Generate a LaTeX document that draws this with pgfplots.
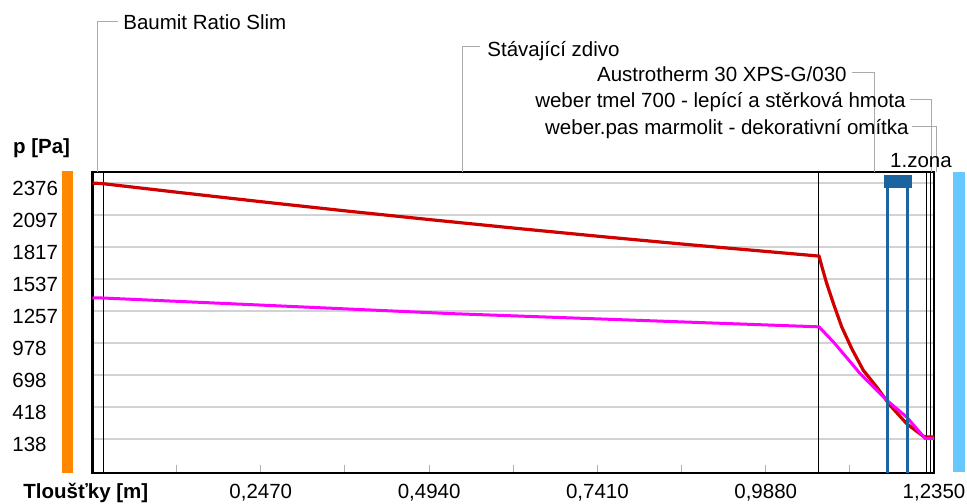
\documentclass[border=0pt]{standalone}
\usepackage{pgfplots}
\pgfplotsset{compat=1.18}
\usepackage{fontspec}
\setmainfont{Liberation Sans}
\definecolor{pred}{RGB}{208,0,0}
\definecolor{pmag}{RGB}{255,0,255}
\definecolor{zoneblue}{RGB}{28,100,160}
\definecolor{barorange}{RGB}{255,136,0}
\definecolor{barblue}{RGB}{102,200,255}
\definecolor{gridgray}{RGB}{210,210,210}
\definecolor{leadgray}{RGB}{170,170,170}
\begin{document}
\begin{tikzpicture}[font=\fontsize{10.25pt}{12pt}\selectfont]
\useasboundingbox (0,0) rectangle (483.5pt,251.5pt);
\begin{axis}[
  at={(46.25pt,15pt)}, anchor=south west,
  scale only axis, width=420.75pt, height=150.5pt,
  xmin=0, xmax=1.235, ymin=-156.8, ymax=2476.6,
  clip=false,
  axis line style={line width=1.2pt},
  xtick={0.1235,0.247,0.3705,0.494,0.6175,0.741,0.8645,0.988,1.1115,1.235},
  xticklabels={{},{0,2470},{},{0,4940},{},{0,7410},{},{0,9880},{},{1,2350}},
  xtick pos=left, tick align=inside,
  major tick length=4pt,
  xtick style={color=gray!60, line width=0.5pt},
  xticklabel style={anchor=base, yshift=-12.65pt, inner sep=0pt},
  ytick={138,417.75,697.5,977.25,1257,1536.75,1816.5,2096.25,2376},
  yticklabels={138,418,698,978,1257,1537,1817,2097,2376},
  ytick style={draw=none},
  yticklabel style={anchor=base west, inner sep=0pt, xshift=-40.25pt, yshift=-6pt},
  ymajorgrids, grid style={color=gridgray, line width=1pt},
]
% side bars (interior / exterior)
\fill[barorange] (axis cs:-0.0448,-156.8) rectangle (axis cs:-0.0286,2485);
\fill[barblue] (axis cs:1.2629,-148) rectangle (axis cs:1.2805,2476.6);
% layer boundaries
\addplot[black, line width=0.5pt] coordinates {(0.0161,-156.8) (0.0161,2476.6)};
\addplot[black, line width=0.5pt] coordinates {(1.0662,-156.8) (1.0662,2476.6)};
\addplot[black, line width=0.5pt] coordinates {(1.2243,-156.8) (1.2243,2476.6)};
\addplot[black, line width=0.5pt] coordinates {(1.2300,-156.8) (1.2300,2476.6)};
% saturated pressure
\addplot[pred, line width=1.6pt] coordinates {
 (0,2380) (0.0161,2374) (0.125,2299) (0.25,2215) (0.375,2134) (0.5,2057)
 (0.625,1982) (0.75,1910) (0.875,1841) (1.0662,1741)
 (1.0702,1654) (1.0775,1502) (1.0873,1327) (1.0995,1122) (1.1142,932)
 (1.1312,742) (1.1508,596) (1.1704,436) (1.1949,275) (1.2193,164) (1.2243,158) (1.235,158)};
% partial pressure
\addplot[pmag, line width=1.5pt] coordinates {
 (0,1376) (0.0161,1374) (0.525,1238) (1.0662,1122) (1.0873,990) (1.1142,801)
 (1.1264,713) (1.146,596) (1.1655,480) (1.1949,333) (1.2217,147) (1.235,147)};
% condensation zone
\addplot[zoneblue, line width=1.5pt] coordinates {(1.1670,-156.8) (1.1670,2400)};
\addplot[zoneblue, line width=1.5pt] coordinates {(1.1964,-156.8) (1.1964,2400)};
\addplot[fill=zoneblue, draw=none] coordinates {(1.1616,2337) (1.2027,2337) (1.2027,2450) (1.1616,2450)} -- cycle;
\end{axis}
\begin{scope}[x=0.5pt,y=-0.5pt,yshift=251.5pt]
\draw[leadgray, line width=0.5pt] (97.3,172) -- (97.3,21.7) -- (118,21.7);
\node[anchor=base west, inner sep=0pt] at (123,30) {Baumit Ratio Slim};
\draw[leadgray, line width=0.5pt] (462,172) -- (462,47) -- (480,47);
\node[anchor=base west, inner sep=0pt] at (487,56.3) {Stávající zdivo};
\draw[leadgray, line width=0.5pt] (852,73) -- (874,73) -- (874,172);
\node[anchor=base east, inner sep=0pt] at (847,82) {Austrotherm 30 XPS-G/030};
\draw[leadgray, line width=0.5pt] (910,100) -- (931.6,100) -- (931.6,172);
\node[anchor=base east, inner sep=0pt] at (906,108) {weber tmel 700 - lepící a stěrková hmota};
\draw[leadgray, line width=0.5pt] (912,127) -- (936,127) -- (936,172);
\node[anchor=base east, inner sep=0pt] at (909,135) {weber.pas marmolit - dekorativní omítka};
\node[anchor=base, inner sep=0pt] at (921,168) {1.zona};
\node[anchor=base west, inner sep=0pt, font=\fontsize{10.25pt}{12pt}\selectfont\bfseries] at (12.7,154) {p [Pa]};
\node[anchor=base west, inner sep=0pt, font=\fontsize{10.25pt}{12pt}\selectfont\bfseries] at (23,498.3) {Tloušťky [m]};
\end{scope}
\end{tikzpicture}
\end{document}
